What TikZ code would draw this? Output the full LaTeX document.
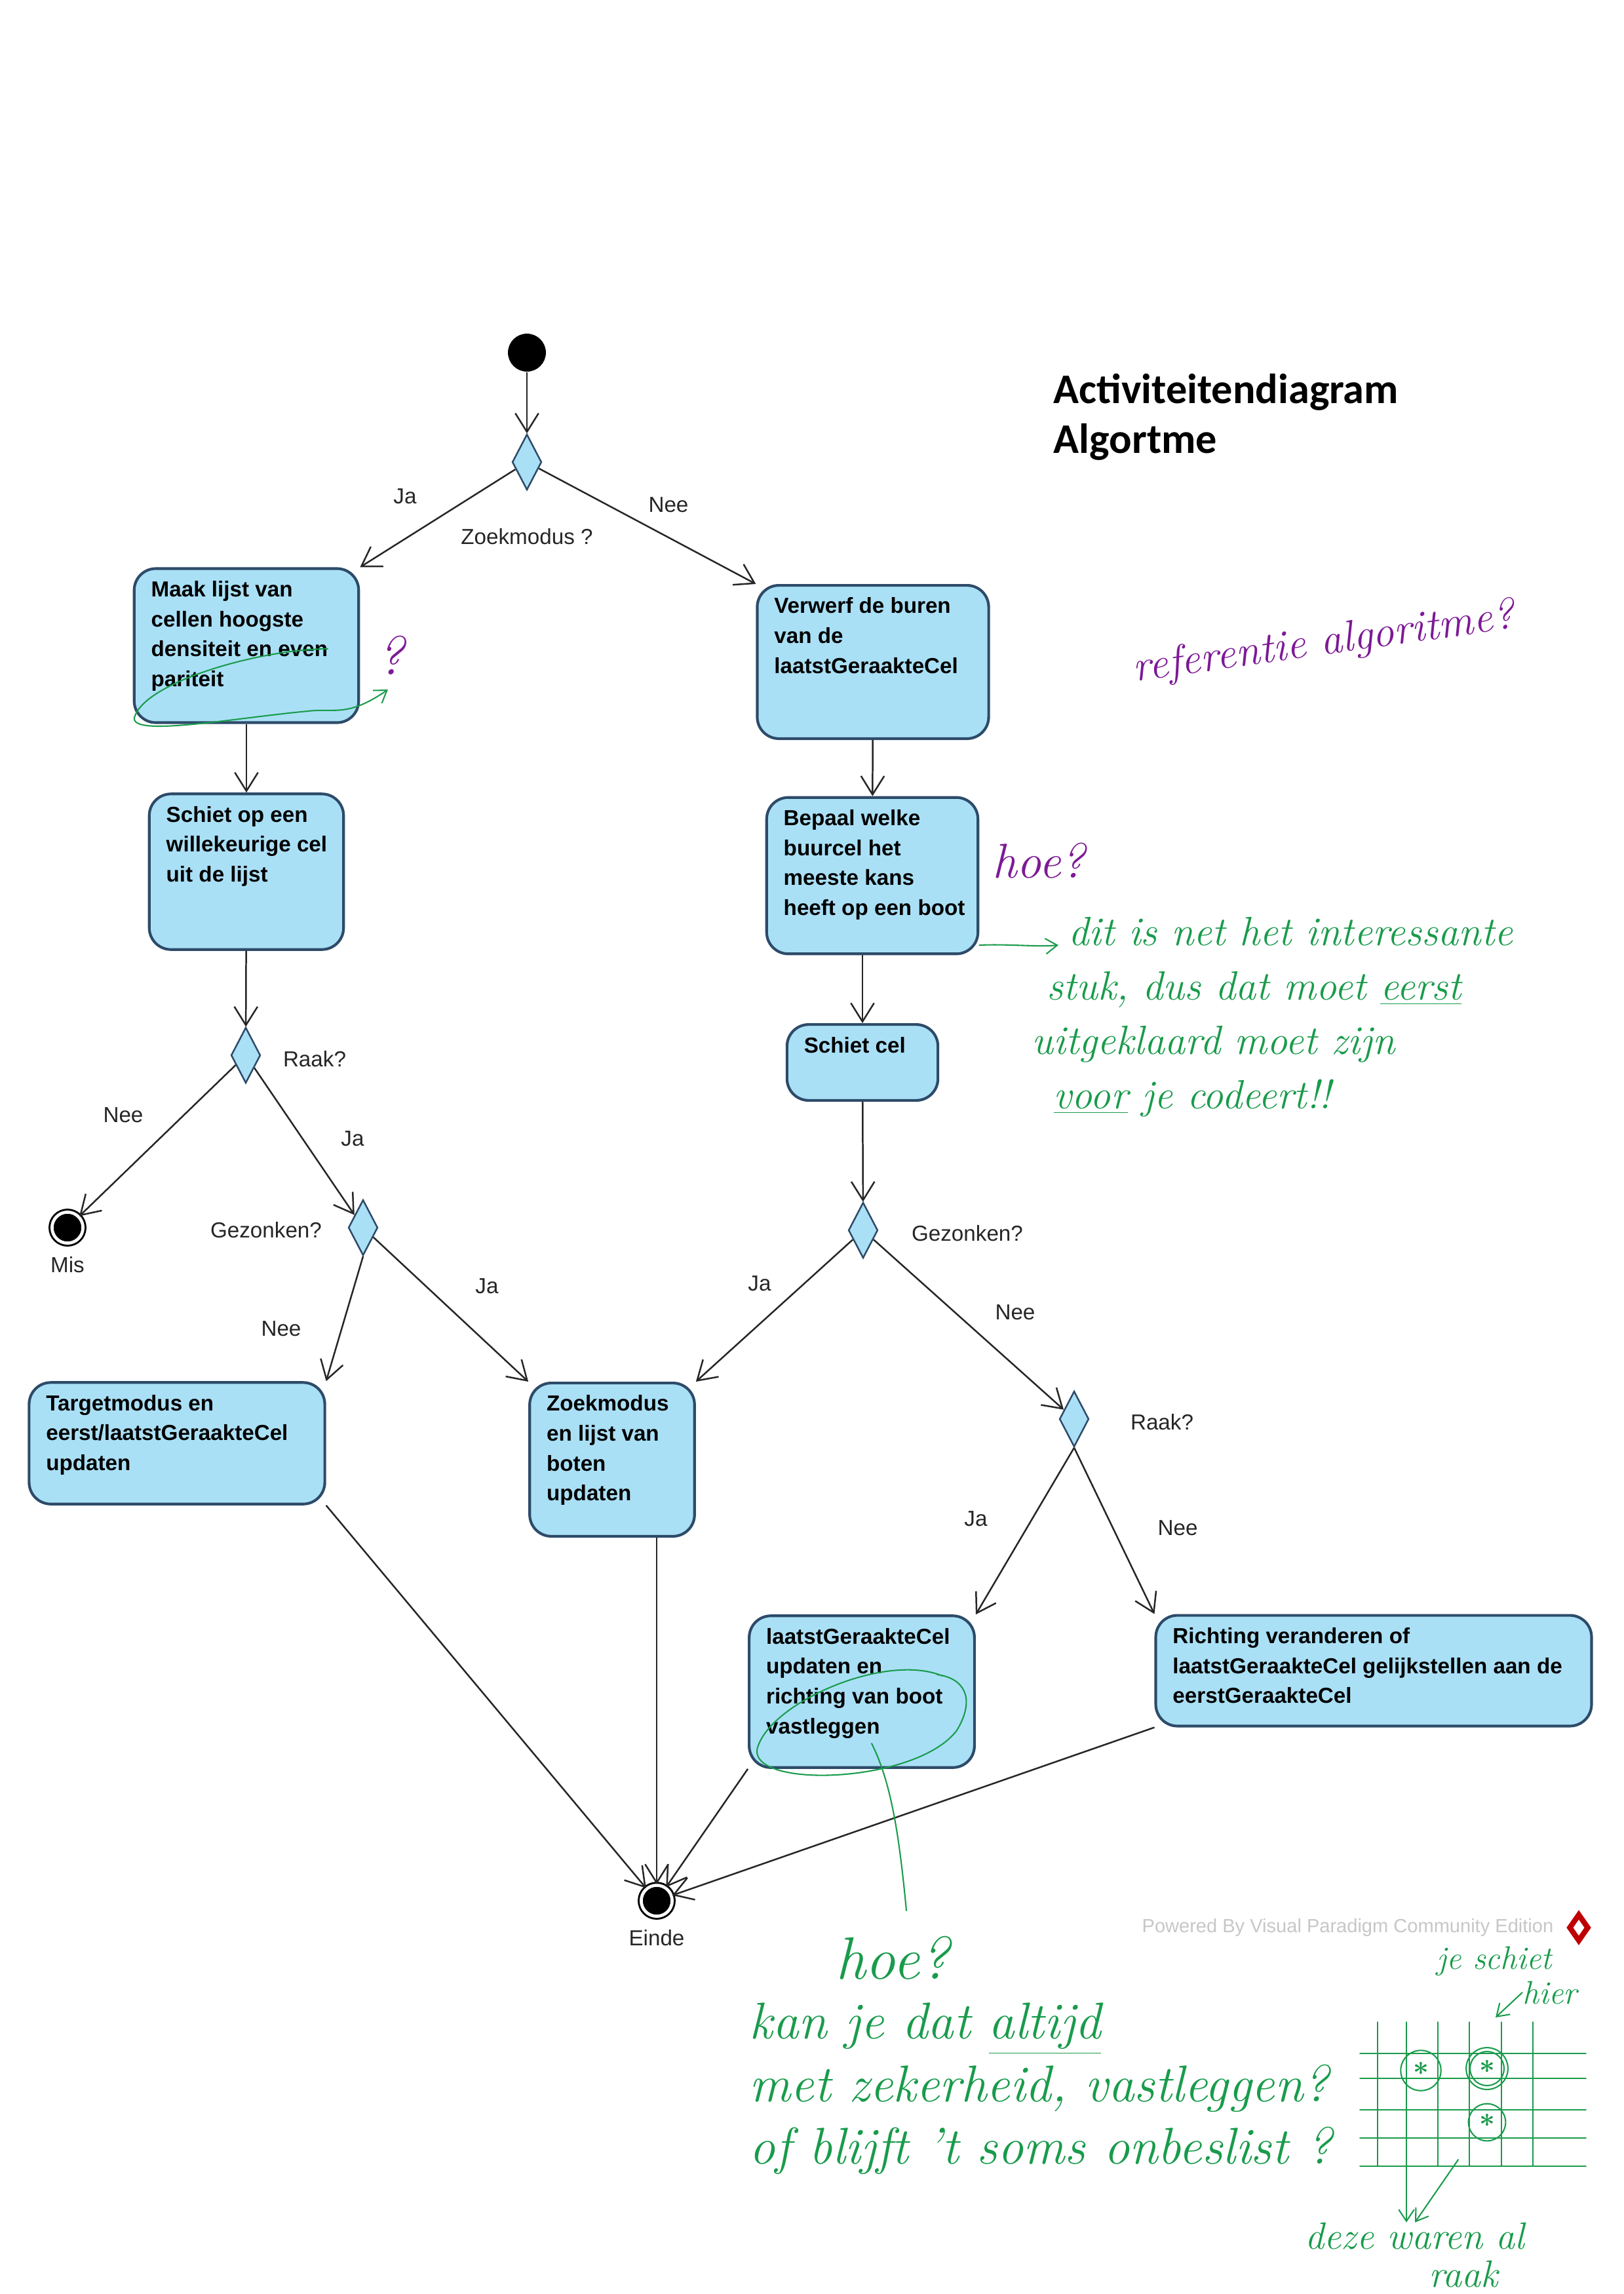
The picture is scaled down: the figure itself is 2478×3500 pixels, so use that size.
\documentclass[tikz,border=0pt]{standalone}
\usepackage{fontspec}
\newfontfamily\vpfont{Liberation Sans}
\newfontfamily\titelfont{Carlito}
\usetikzlibrary{arrows.meta,shapes.geometric}
\definecolor{actfill}{RGB}{170,224,246}
\definecolor{actline}{RGB}{45,75,105}
\definecolor{groen}{RGB}{25,155,75}
\definecolor{paars}{RGB}{125,25,150}
\tikzset{
  act/.style={draw=actline, fill=actfill, line width=1pt, rounded corners=2.8mm, inner sep=0pt},
  acttxt/.style={anchor=north west, align=left, inner xsep=2.3mm, inner ysep=1.7mm, text=black, font=\vpfont\bfseries\fontsize{8}{11}\selectfont},
  keuze/.style={diamond, draw=actline, fill=actfill, line width=0.6pt, minimum width=3.8mm, minimum height=7.2mm, inner sep=0pt},
  beginpunt/.style={circle, fill=black, minimum size=4.9mm, inner sep=0pt},
  eindpunt/.style={circle, draw=black, fill=black, line width=0.25mm, double=white, double distance=0.4mm, minimum size=4mm, inner sep=0pt},
  lbl/.style={font=\vpfont\fontsize{8}{9}\selectfont, text=black!85, inner sep=1pt},
  pijl/.style={->, line width=0.6pt, black!85},
  pen/.style={groen, line width=0.5pt, line cap=round},
  kleinpijl/.style={-{Straight Barb[length=1.5mm, width=2mm]}},
  hand/.style={align=left, inner sep=0pt},
  >={Straight Barb[length=2.4mm, width=3mm]}
}
\begin{document}
\begin{tikzpicture}[x=0.08467mm, y=-0.08467mm]
  \useasboundingbox (0,0) rectangle (2478,3500);

  % titel
  \node[hand, anchor=north west, font=\titelfont\bfseries\fontsize{15.5}{18.5}\selectfont] (titel) at (1607,569) {Activiteitendiagram\\Algortme};

  % start en eerste keuze
  \node[beginpunt] (begin) at (804,538) {};
  \node[keuze] (zoek) at (804,705) {};

  % acties
  \node[act, minimum width=29mm, minimum height=19.9mm, label={[acttxt]north west:Maak lijst van\\cellen hoogste\\densiteit en even\\pariteit}] (lijst) at (376,985) {};
  \node[act, minimum width=29.9mm, minimum height=19.8mm, label={[acttxt]north west:Verwerf de buren\\van de\\laatstGeraakteCel}] (verwerf) at (1332,1010) {};
  \node[act, minimum width=25.1mm, minimum height=20.1mm, label={[acttxt]north west:Schiet op een\\willekeurige cel\\uit de lijst}] (schietlijst) at (376,1330) {};
  \node[act, minimum width=27.3mm, minimum height=20.2mm, label={[acttxt]north west:Bepaal welke\\buurcel het\\meeste kans\\heeft op een boot}] (bepaal) at (1331,1336) {};
  \node[keuze] (raak1) at (375,1610) {};
  \node[act, minimum width=19.5mm, minimum height=9.8mm, label={[acttxt]north west:Schiet cel}] (schiet) at (1316,1621) {};
  \node[eindpunt, label={[lbl, label distance=1.2mm]below:Mis}] (mis) at (103,1873) {};
  \node[keuze] (gez1) at (554,1873) {};
  \node[keuze] (gez2) at (1317,1877) {};
  \node[act, minimum width=38.2mm, minimum height=15.7mm, label={[acttxt]north west:Targetmodus en\\eerst/laatstGeraakteCel\\updaten}] (target) at (270,2202) {};
  \node[act, minimum width=21.3mm, minimum height=19.8mm, label={[acttxt]north west:Zoekmodus\\en lijst van\\boten\\updaten}] (zoekbij) at (934,2227) {};
  \node[keuze] (raak2) at (1639,2165) {};
  \node[act, minimum width=29.1mm, minimum height=19.6mm, label={[acttxt]north west:laatstGeraakteCel\\updaten en\\richting van boot\\vastleggen}] (vastleg) at (1315,2581) {};
  \node[act, minimum width=56.3mm, minimum height=14.3mm, label={[acttxt]north west:Richting veranderen of\\laatstGeraakteCel gelijkstellen aan de\\eerstGeraakteCel}] (richting) at (2096,2549) {};
  \node[eindpunt, label={[lbl, label distance=1.2mm]below:Einde}] (einde) at (1002,2900) {};

  % overgangen
  \draw[pijl] (begin) -- (zoek);
  \draw[pijl] (zoek) -- (lijst.north east);
  \draw[pijl] (zoek) -- (verwerf.north west);
  \draw[pijl] (lijst) -- (schietlijst);
  \draw[pijl] (verwerf) -- (bepaal);
  \draw[pijl] (schietlijst) -- (raak1);
  \draw[pijl] (schiet.north |- bepaal.south) -- (schiet.north);
  \draw[pijl] (schiet) -- (gez2);
  \draw[pijl] (raak1) -- (mis);
  \draw[pijl] (raak1) -- (gez1);
  \draw[pijl] (gez1.south) -- (target.north east);
  \draw[pijl] (gez1) -- (zoekbij.north west);
  \draw[pijl] (gez2) -- (zoekbij.north east);
  \draw[pijl] (gez2) -- (raak2);
  \draw[pijl] (raak2.south) -- (vastleg.north east);
  \draw[pijl] (raak2.south) -- (richting.north west);
  \draw[pijl] (target.south east) -- (einde);
  \draw[pijl] (einde |- zoekbij.south) -- (einde);
  \draw[pijl] (vastleg.south west) -- (einde);
  \draw[pijl] (richting.south west) -- (einde);

  % bijschriften
  \node[lbl] (jaZ) at (618,757) {Ja};
  \node[lbl] (zoekvraag) at (804,819) {Zoekmodus ?};
  \node[lbl] (neeZ) at (1020,770) {Nee};
  \node[lbl] (raakvraag1) at (480,1616) {Raak?};
  \node[lbl] (neeR1) at (188,1701) {Nee};
  \node[lbl] (jaR1) at (538,1737) {Ja};
  \node[lbl] (gezvraag1) at (406,1877) {Gezonken?};
  \node[lbl] (jaG1) at (743,1962) {Ja};
  \node[lbl] (neeG1) at (429,2027) {Nee};
  \node[lbl] (gezvraag2) at (1476,1882) {Gezonken?};
  \node[lbl] (jaG2) at (1159,1958) {Ja};
  \node[lbl] (neeG2) at (1549,2002) {Nee};
  \node[lbl] (raakvraag2) at (1773,2170) {Raak?};
  \node[lbl] (jaR2) at (1489,2317) {Ja};
  \node[lbl] (neeR2) at (1797,2331) {Nee};

  % watermerk
  \node[font=\vpfont\fontsize{7}{8}\selectfont, text=black!22, anchor=east] (vp) at (2385,2941) {Powered By Visual Paradigm Community Edition};
  \node[diamond, draw=red!75!black, fill=white, line width=0.7mm, minimum width=2.6mm, minimum height=3.6mm, inner sep=0pt] (vplogo) at (2409,2941) {};

  % opmerkingen in paars
  \node[hand, text=paars, font=\itshape\fontsize{20}{20}\selectfont] (vraag) at (596,1000) {?};
  \node[hand, text=paars, rotate=8, font=\itshape\fontsize{16}{16}\selectfont] (referentie) at (2020,982) {referentie algoritme?};
  \node[hand, text=paars, font=\itshape\fontsize{18}{18}\selectfont] (hoe1) at (1585,1313) {hoe?};

  % opmerkingen in groen
  \draw[pen] (500,990) .. controls (400,990) and (220,1040) .. (205,1095) .. controls (200,1125) and (360,1095) .. (470,1085);
  \draw[pen, kleinpijl] (470,1085) .. controls (510,1080) and (530,1095) .. (592,1052);

  \node[hand, text=groen, anchor=north west, font=\itshape\fontsize{15}{20}\selectfont] (noot) at (1574,1398) {\hspace*{4.7mm}dit is net het interessante\\\hspace*{1.9mm}stuk, dus dat moet \underline{eerst}\\uitgeklaard moet zijn\\\hspace*{2.8mm}\underline{voor} je codeert!!};
  \coordinate (nootpijl) at (1615,1442);
  \draw[pen, kleinpijl] (bepaal.east |- nootpijl) .. controls (1540,1440) and (1580,1445) .. (nootpijl);

  \draw[pen] (1438,2557) .. controls (1350,2520) and (1170,2600) .. (1155,2670) .. controls (1150,2730) and (1400,2720) .. (1460,2640) .. controls (1490,2590) and (1470,2560) .. (1430,2555);
  \draw[pen] (1330,2660) .. controls (1360,2720) and (1372,2800) .. (1383,2915);
  \node[hand, text=groen, font=\itshape\fontsize{22}{22}\selectfont] (hoe2) at (1362,2987) {hoe?};
  \node[hand, text=groen, anchor=north west, font=\itshape\fontsize{19}{23}\selectfont] (zekerheid) at (1143,3055) {kan je dat \underline{altijd}\\met zekerheid, vastleggen?\\of blijft 't soms onbeslist ?};

  % schetsje van het rooster
  \foreach \gx in {2102,2146,2194,2242,2291,2339}
    \draw[pen, line width=0.4pt] (\gx,3085) -- (\gx,3305);
  \foreach \gy in {3133,3171,3219,3262,3305}
    \draw[pen, line width=0.4pt] (2075,\gy) -- (2420,\gy);
  \draw[pen] (2168,3159) circle[radius=2.6mm];
  \draw[pen] (2269,3156) circle[radius=2.7mm];
  \draw[pen] (2269,3156) circle[radius=2.2mm];
  \draw[pen] (2269,3238) circle[radius=2.4mm];
  \node[text=groen, font=\bfseries] (ster1) at (2168,3162) {*};
  \node[text=groen, font=\bfseries] (ster2) at (2269,3159) {*};
  \node[text=groen, font=\bfseries] (ster3) at (2269,3241) {*};

  \node[hand, text=groen, font=\itshape\fontsize{12}{12}\selectfont] (jeschiet) at (2280,2992) {je schiet};
  \node[hand, text=groen, font=\itshape\fontsize{12}{12}\selectfont] (hier) at (2365,3040) {hier};
  \coordinate (schietdoel) at (2282,3078);
  \draw[pen, kleinpijl] (hier.west) -- (schietdoel);

  \node[hand, text=groen, font=\itshape\fontsize{14}{14}\selectfont] (deze) at (2159,3412) {deze waren al};
  \node[hand, text=groen, font=\itshape\fontsize{14}{14}\selectfont] (raak) at (2233,3470) {raak};
  \coordinate (kruis1) at (2146,3228);
  \coordinate (kruis2) at (2225,3295);
  \draw[pen, kleinpijl] (kruis1) -- (deze.north -| kruis1);
  \draw[pen, kleinpijl] (kruis2) -- (deze.north);
\end{tikzpicture}
\end{document}
